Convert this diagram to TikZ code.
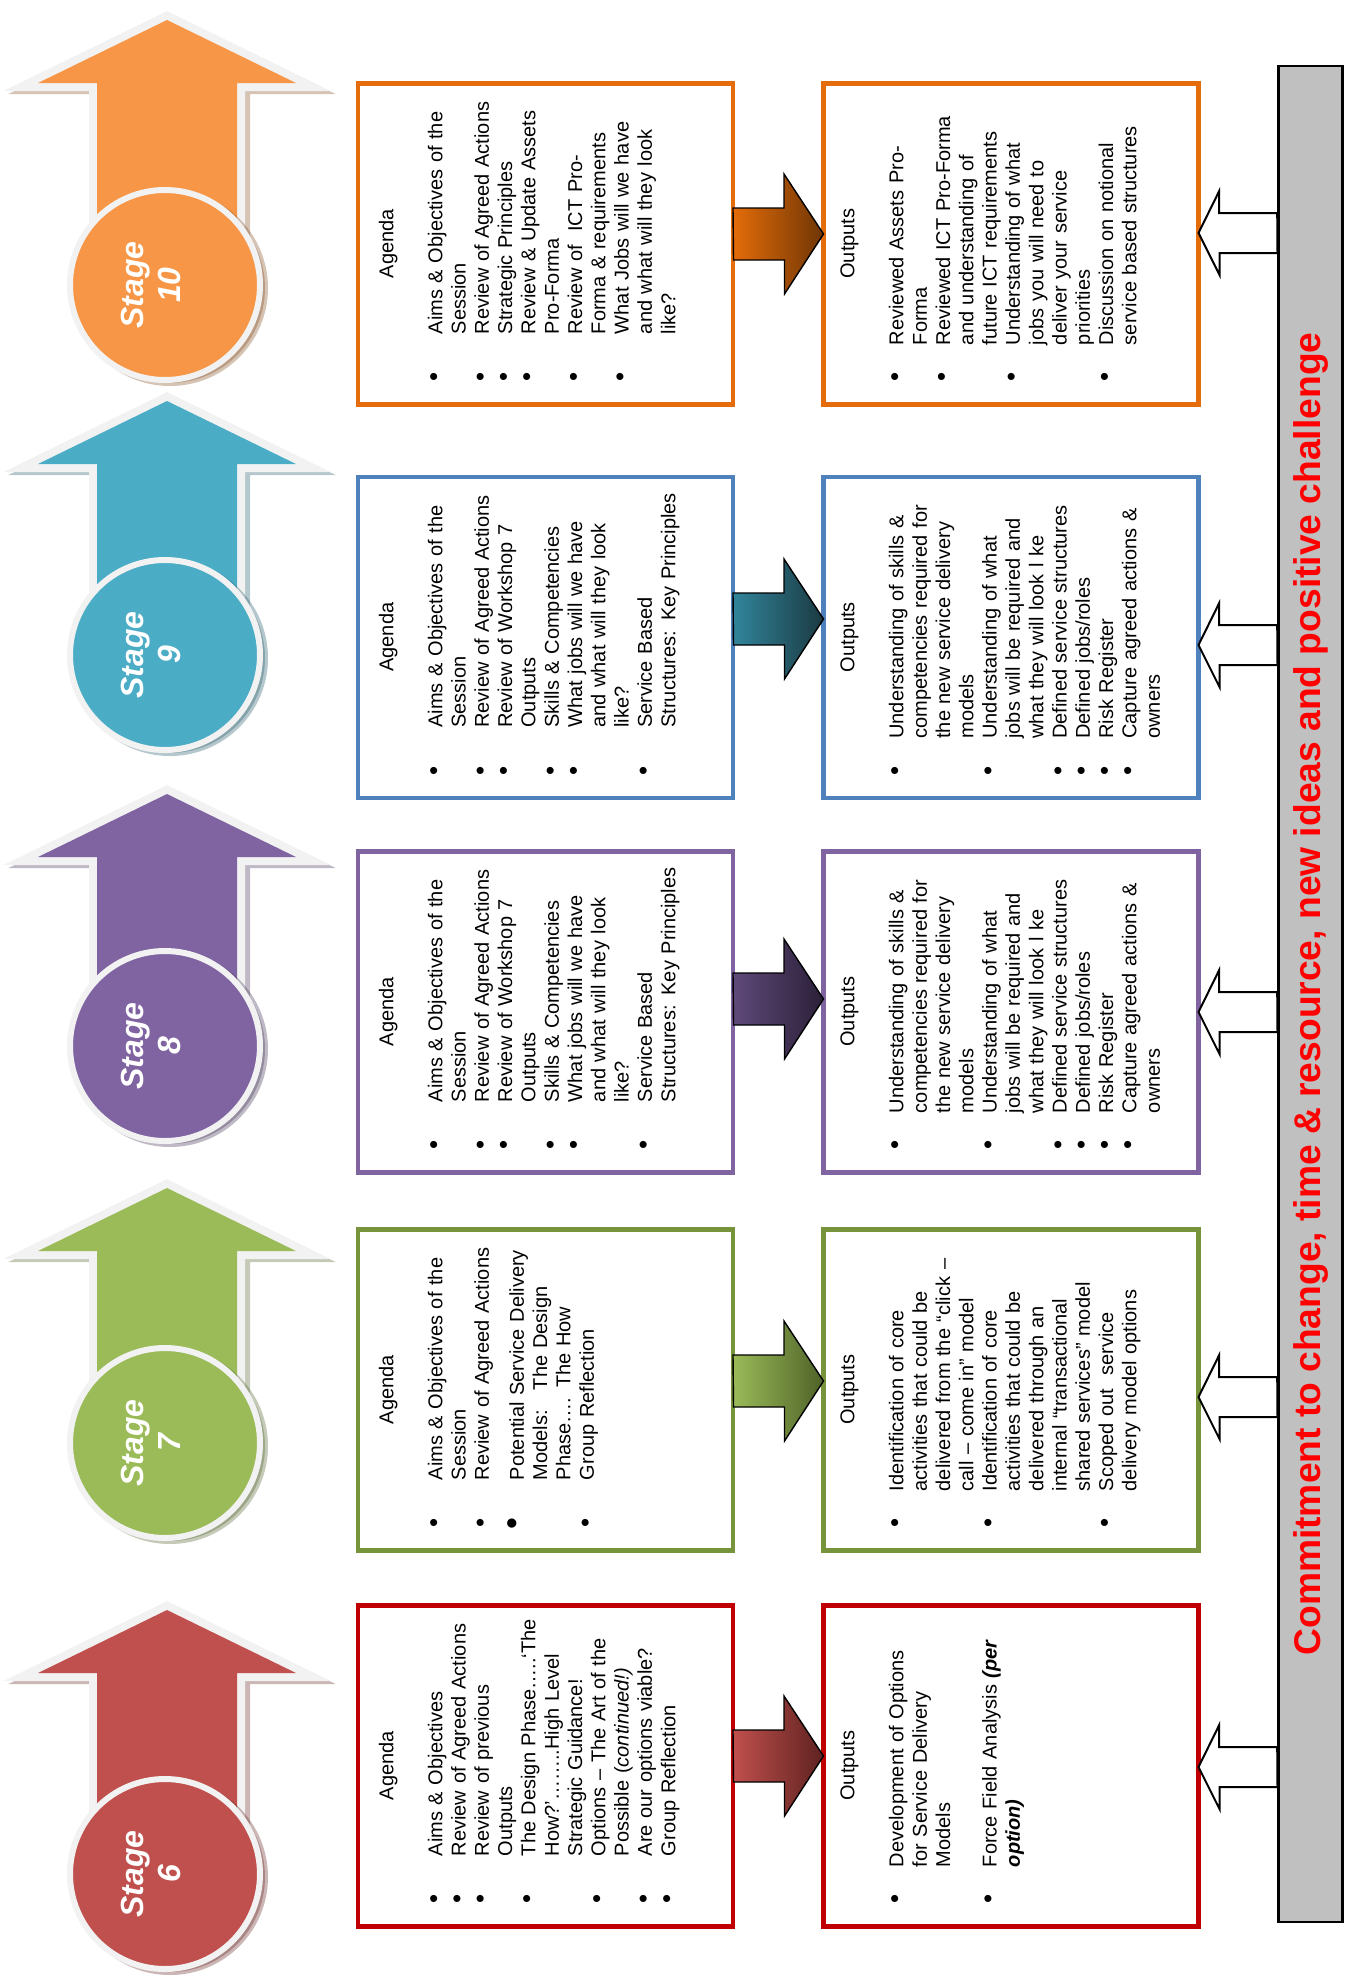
\documentclass[tikz,border=0pt]{standalone}
\usepackage{fontspec}
\setmainfont{Liberation Sans}
\usetikzlibrary{calc}

\definecolor{orangefill}{HTML}{F79646}
\definecolor{orangeline}{HTML}{E46C0A}
\definecolor{orangedark}{HTML}{6F3604}
\definecolor{aquafill}{HTML}{4BACC6}
\definecolor{aqualine}{HTML}{4F81BD}
\definecolor{aqualink}{HTML}{31859C}
\definecolor{aquadark}{HTML}{1B3A42}
\definecolor{purplefill}{HTML}{8064A2}
\definecolor{purplelink}{HTML}{5F497A}
\definecolor{purpledark}{HTML}{2B2038}
\definecolor{greenfill}{HTML}{9BBB59}
\definecolor{greenline}{HTML}{77933C}
\definecolor{greendark}{HTML}{4F6228}
\definecolor{redfill}{HTML}{C0504D}
\definecolor{redline}{HTML}{C00000}
\definecolor{reddark}{HTML}{5E2220}
\definecolor{rimgrey}{HTML}{F2F2F2}
\definecolor{bargrey}{HTML}{C0C0C0}
\definecolor{bartextred}{HTML}{FF0000}

\newlength\bulgap
\newcommand\bul{\par\noindent\llap{{\fontsize{13}{10}\selectfont\textbullet}\hskip\bulgap}}
\newcommand\bigbul{\par\vspace{5.85pt}\noindent\llap{{\fontsize{17}{10}\selectfont\textbullet}\hskip 18.5pt}}
\newcommand\agendahead{{\centering Agenda\par}\vspace{12.85pt}\leftskip=35pt\bulgap=19.2pt\relax}
\newcommand\outputhead{{\centering Outputs\par}\vspace{12.85pt}\leftskip=29.5pt\bulgap=13.7pt\relax}

\begin{document}
\begin{tikzpicture}[
    x=0.5pt, y=-0.5pt,
    stagebox/.style={draw, line width=2.2pt, minimum width=187.5pt,
                     minimum height=160.5pt, inner sep=0pt, outer sep=0pt},
    agendatext/.style={rotate=90, anchor=north west, inner xsep=0pt,
                       inner ysep=10.2pt, text width=160.5pt, align=left,
                       font=\fontsize{10}{11.65}\selectfont},
    outputtext/.style={agendatext, inner ysep=8.3pt},
    stageshadow/.style={preaction={draw=#1!55!black, fill=#1!55!black,
                        line width=8pt, line join=miter, opacity=.35,
                        transform canvas={shift={(2.5pt,-1.5pt)}}}},
    stagearrow/.style={fill=#1, stageshadow=#1,
                       preaction={draw=rimgrey, line width=8pt, line join=miter}},
    disc/.style={circle, draw=rimgrey, fill=#1, line width=3pt,
                 minimum size=95pt, inner sep=0pt,
                 preaction={draw=#1!55!black, fill=#1!55!black, opacity=.35,
                            transform canvas={shift={(2.5pt,-1.5pt)}}}},
    stagelabel/.style={rotate=90, text=white, align=center, inner sep=0pt,
                       font=\fontsize{16}{18.5}\selectfont\bfseries\itshape},
    link/.style={draw=black, line width=0.7pt},
    push/.style={draw=black, fill=white, line width=1pt, line join=miter},
    bar/.style={draw=black, fill=bargrey, line width=1.3pt,
                minimum width=32pt, minimum height=928pt, inner sep=0pt},
    bartext/.style={rotate=90, text=bartextred, inner sep=0pt,
                    font=\fontsize{18.6}{22}\selectfont\bfseries}]
  \useasboundingbox (0,0) rectangle (1351,1977);

  % stage arrows with their discs
  \foreach \s/\tipy/\discy/\col in {10/10/285/orangefill, 9/391/655/aquafill,
      8/784/1046/purplefill, 7/1178/1443/greenfill, 6/1600/1874/redfill} {
    \path[stagearrow=\col] (167,\tipy+10) -- (296,\tipy+73) -- (237,\tipy+73)
      -- (237,\discy) -- (97,\discy) -- (97,\tipy+73) -- (38,\tipy+73) -- cycle;
    \node[disc=\col] (disc\s) at (165,\discy) {};
    \node[stagelabel] (label\s) at ($(disc\s.center)+(-14,0)$) {Stage\\\s};
  }

  % commitment bar
  \node[bar] (bar) at (1310.5,994) {};
  \node[bartext] (bartext) at (bar.center)
    {Commitment to change, time \& resource, new ideas and positive challenge};

  % boxes, links and push arrows
  \foreach \s/\y/\bcol/\lcol/\dcol/\ay/\wy in {
      10/244/orangeline/orangeline/orangedark/234/233,
      9/637.5/aqualine/aqualink/aquadark/619/645,
      8/1012/purplefill/purplelink/purpledark/999/1012,
      7/1390/greenline/greenfill/greendark/1381/1397,
      6/1766/redline/redfill/reddark/1756/1767} {
    \node[stagebox, draw=\bcol] (agenda\s) at (545.5,\y) {};
    \node[stagebox, draw=\bcol] (outputs\s) at (1011,\y) {};
    \coordinate (tail\s) at (agenda\s.east |- 0,\ay);
    \draw[link, left color=\lcol, right color=\dcol] (tail\s) ++(0,-26)
      -- ++(51,0) -- ++(0,-34) -- (outputs\s.west |- tail\s) -- ++(-39,60)
      -- ++(0,-34) -- ++(-51,0) -- cycle;
    \coordinate (push\s) at (bar.west |- 0,\wy);
    \draw[push] (push\s) ++(0,-20) -- ++(-58,0) -- ++(0,-22)
      -- (outputs\s.east |- push\s) -- ++(21,42) -- ++(0,-22) -- ++(58,0) -- cycle;
  }

  % stage 10
  \node[agendatext] (agendatext10) at (agenda10.south west) {\agendahead
    \bul Aims \& Objectives of the\\Session
    \bul Review of Agreed Actions
    \bul Strategic Principles
    \bul Review \& Update Assets\\Pro-Forma
    \bul Review of\ \ ICT Pro-\\Forma \& requirements
    \bul What Jobs will we have\\and what will they look\\like?\par};
  \node[outputtext] (outputtext10) at (outputs10.south west) {\outputhead
    \bul Reviewed Assets Pro-\\Forma
    \bul Reviewed ICT Pro-Forma\\and understanding of\\future ICT requirements
    \bul Understanding of what\\jobs you will need to\\deliver your service\\priorities
    \bul Discussion on notional\\service based structures\par};

  % stage 9
  \node[agendatext] (agendatext9) at (agenda9.south west) {\agendahead
    \bul Aims \& Objectives of the\\Session
    \bul Review of Agreed Actions
    \bul Review of Workshop 7\\Outputs
    \bul Skills \& Competencies
    \bul What jobs will we have\\and what will they look\\like?
    \bul Service Based\\Structures: Key Principles\par};
  \node[outputtext] (outputtext9) at (outputs9.south west) {\outputhead
    \bul Understanding of skills \&\\competencies required for\\the new service delivery\\models
    \bul Understanding of what\\jobs will be required and\\what they will look l ke
    \bul Defined service structures
    \bul Defined jobs/roles
    \bul Risk Register
    \bul Capture agreed actions \&\\owners\par};

  % stage 8
  \node[agendatext] (agendatext8) at (agenda8.south west) {\agendahead
    \bul Aims \& Objectives of the\\Session
    \bul Review of Agreed Actions
    \bul Review of Workshop 7\\Outputs
    \bul Skills \& Competencies
    \bul What jobs will we have\\and what will they look\\like?
    \bul Service Based\\Structures: Key Principles\par};
  \node[outputtext] (outputtext8) at (outputs8.south west) {\outputhead
    \bul Understanding of skills \&\\competencies required for\\the new service delivery\\models
    \bul Understanding of what\\jobs will be required and\\what they will look l ke
    \bul Defined service structures
    \bul Defined jobs/roles
    \bul Risk Register
    \bul Capture agreed actions \&\\owners\par};

  % stage 7
  \node[agendatext] (agendatext7) at (agenda7.south west) {\agendahead
    \bul Aims \& Objectives of the\\Session
    \bul Review of Agreed Actions
    \bigbul Potential Service Delivery\\Models:\ \ \ The Design\\Phase…. The How
    \bul Group Reflection\par};
  \node[outputtext] (outputtext7) at (outputs7.south west) {\outputhead
    \bul Identification of core\\activities that could be\\delivered from the “click –\\call – come in” model
    \bul Identification of core\\activities that could be\\delivered through an\\internal “transactional\\shared services” model
    \bul Scoped out\ \ service\\delivery model options\par};

  % stage 6
  \node[agendatext] (agendatext6) at (agenda6.south west) {\agendahead
    \bul Aims \& Objectives
    \bul Review of Agreed Actions
    \bul Review of previous\\Outputs
    \bul The Design Phase…..‘The\\How?’……..High Level\\Strategic Guidance!
    \bul Options – The Art of the\\Possible (\textit{continued!)}
    \bul Are our options viable?
    \bul Group Reflection\par};
  \node[outputtext] (outputtext6) at (outputs6.south west) {\outputhead
    \bul Development of Options\\for Service Delivery\\Models\par\vspace{11.65pt}
    \bul Force Field Analysis \textbf{\textit{(per\\option)}}\par};
\end{tikzpicture}
\end{document}
